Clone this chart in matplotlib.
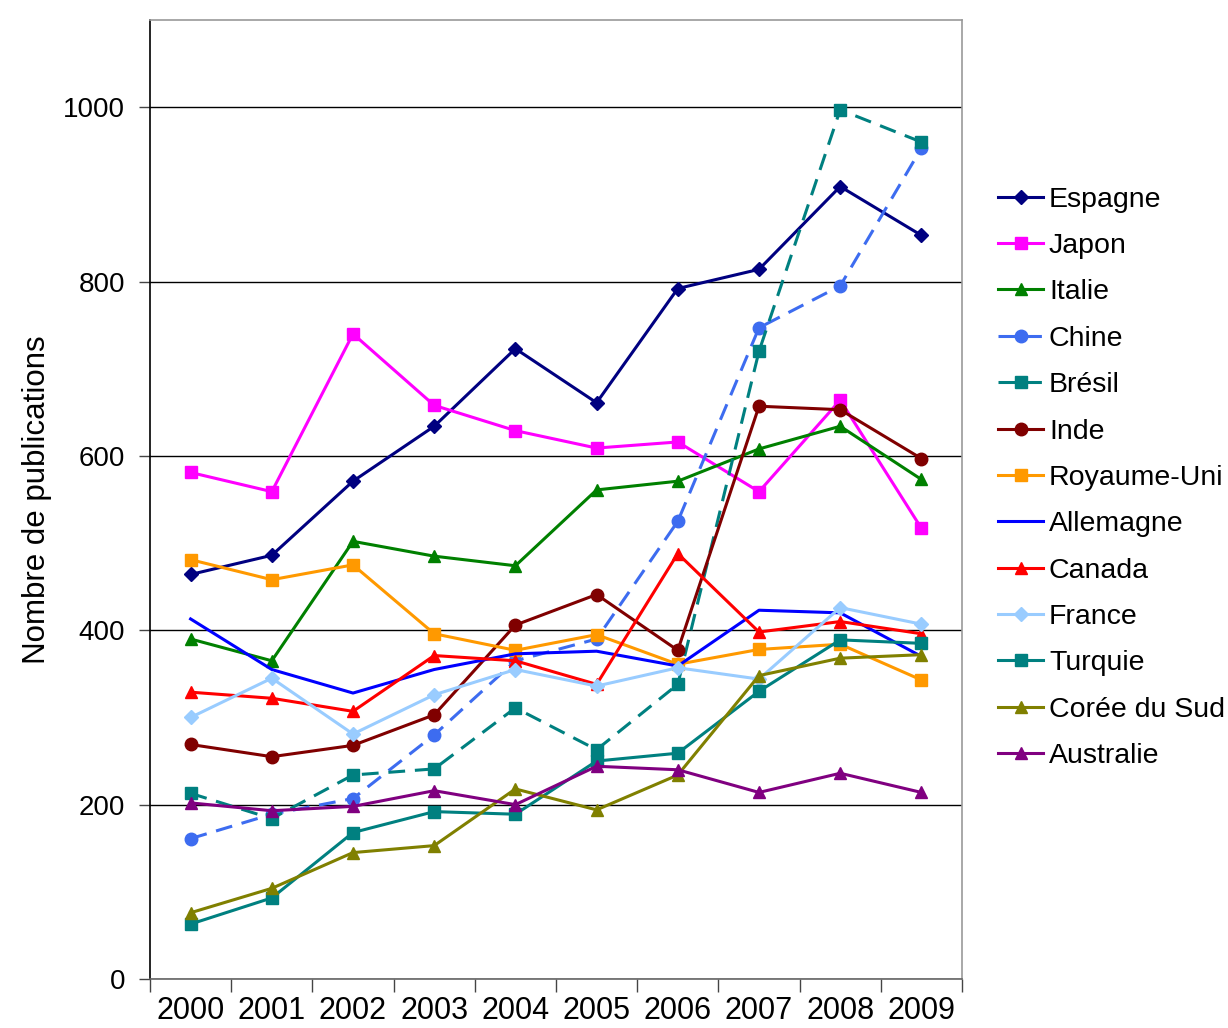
import matplotlib
matplotlib.use("Agg")
import matplotlib.pyplot as plt

plt.rcParams['font.family'] = ['Liberation Sans', 'DejaVu Sans']

years = ["2000", "2001", "2002", "2003", "2004", "2005", "2006", "2007", "2008", "2009"]

espagne = [464, 486, 571, 634, 723, 661, 792, 814, 909, 853]
japon = [581, 559, 740, 658, 629, 609, 616, 559, 664, 517]
italie = [390, 365, 502, 485, 474, 561, 571, 608, 634, 573]
chine = [161, 189, 207, 280, 365, 390, 525, 747, 795, 953]
bresil = [213, 184, 234, 241, 311, 263, 338, 720, 997, 960]
inde = [269, 255, 268, 303, 406, 441, 377, 657, 653, 597]
royaume_uni = [481, 458, 475, 396, 377, 395, 361, 378, 384, 343]
allemagne = [413, 355, 328, 355, 373, 376, 359, 423, 420, 370]
canada = [329, 322, 307, 371, 365, 338, 488, 398, 410, 396]
france = [300, 345, 281, 326, 355, 336, 357, 344, 426, 407]
turquie = [63, 93, 168, 192, 189, 250, 259, 330, 389, 385]
coree_du_sud = [76, 104, 145, 153, 218, 194, 234, 348, 368, 372]
australie = [202, 193, 198, 216, 200, 244, 240, 214, 236, 214]

series = [
    ("Espagne", espagne, "#000080", "D", "-"),
    ("Japon", japon, "#FF00FF", "s", "-"),
    ("Italie", italie, "#008000", "^", "-"),
    ("Chine", chine, "#3D6CF0", "o", "--"),
    ("Brésil", bresil, "#008080", "s", "--"),
    ("Inde", inde, "#800000", "o", "-"),
    ("Royaume-Uni", royaume_uni, "#FF9900", "s", "-"),
    ("Allemagne", allemagne, "#0000FF", None, "-"),
    ("Canada", canada, "#FF0000", "^", "-"),
    ("France", france, "#99CCFF", "D", "-"),
    ("Turquie", turquie, "#008080", "s", "-"),
    ("Corée du Sud", coree_du_sud, "#808000", "^", "-"),
    ("Australie", australie, "#800080", "^", "-"),
]

fig = plt.figure(figsize=(12.28, 10.28), dpi=100)
ax = fig.add_axes([150/1228, 49/1028, 812/1228, 959/1028])

x = list(range(len(years)))
msize = {"D": 7.5, "s": 8, "^": 9, "o": 9}
for i, (name, vals, color, marker, ls) in enumerate(series):
    kw = dict(color=color, lw=2.2, label=name, zorder=3 + i)
    if marker:
        kw.update(marker=marker, markersize=msize[marker], markeredgecolor=color, markerfacecolor=color)
    line, = ax.plot(x, vals, linestyle=ls, **kw)
    if ls == "--":
        line.set_dashes([5.5, 3.2])

ax.set_xlim(-0.5, len(years) - 0.5)
ax.set_ylim(0, 1100)
ax.set_yticks([0, 200, 400, 600, 800, 1000])
ax.set_xticks(x)
ax.set_xticklabels(years, fontsize=22)
ax.set_xticks([i - 0.5 for i in range(len(years) + 1)], minor=True)
ax.tick_params(axis='x', which='major', length=0, pad=12)
ax.tick_params(axis='x', which='minor', length=9, width=1, color='#444444')
ax.tick_params(axis='y', length=8, width=1, labelsize=20, pad=10, color='#444444')
ax.yaxis.grid(True, color='black', lw=1)
ax.set_axisbelow(True)

ax.spines['left'].set_color('black')
ax.spines['bottom'].set_color('#666666')
ax.spines['top'].set_color('#999999')
ax.spines['right'].set_color('#999999')
for s in ax.spines.values():
    s.set_linewidth(1.2)

ax.set_ylabel("Nombre de publications", fontsize=22.5)
ax.yaxis.set_label_coords(-0.121, 0.5)

leg = ax.legend(loc='upper left', bbox_to_anchor=(1.03, 0.838), frameon=False,
                fontsize=20.5, handlelength=1.6, handletextpad=0.2,
                labelspacing=0.715, borderaxespad=0)

fig.savefig("out.png", dpi=100)
